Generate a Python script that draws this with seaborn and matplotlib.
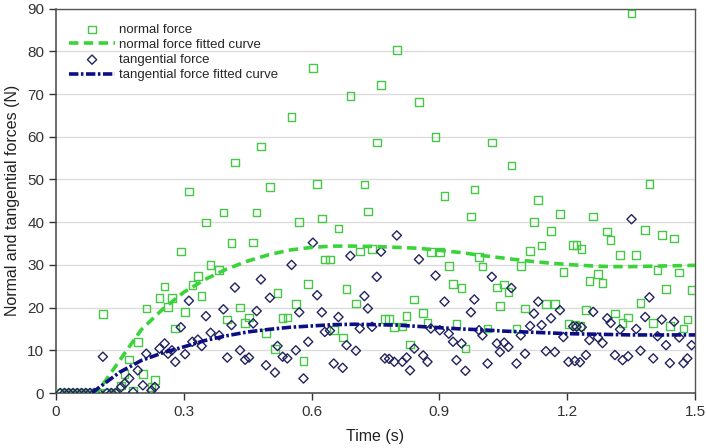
import matplotlib
matplotlib.use("Agg")
import matplotlib.pyplot as plt
import pandas as pd
import seaborn as sns

sample_time = [
    0.010, 0.020, 0.030, 0.040, 0.050, 0.060, 0.070, 0.080, 0.090, 0.100,
    0.110, 0.120, 0.130, 0.140, 0.153, 0.161, 0.172, 0.181, 0.192, 0.204,
    0.212, 0.224, 0.232, 0.243, 0.255, 0.263, 0.272, 0.280, 0.293, 0.303,
    0.312, 0.320, 0.333, 0.342, 0.352, 0.363, 0.383, 0.393, 0.402, 0.412,
    0.420, 0.432, 0.444, 0.453, 0.463, 0.471, 0.481, 0.493, 0.502, 0.514,
    0.520, 0.532, 0.543, 0.553, 0.563, 0.571, 0.581, 0.592, 0.603, 0.613,
    0.624, 0.631, 0.643, 0.652, 0.663, 0.673, 0.682, 0.691, 0.704, 0.713,
    0.724, 0.732, 0.742, 0.753, 0.763, 0.772, 0.782, 0.794, 0.800, 0.813,
    0.823, 0.831, 0.841, 0.852, 0.862, 0.872, 0.880, 0.891, 0.901, 0.912,
    0.922, 0.932, 0.940, 0.952, 0.961, 0.974, 0.982, 0.993, 1.001, 1.013,
    1.023, 1.035, 1.042, 1.052, 1.062, 1.069, 1.081, 1.091, 1.101, 1.113,
    1.122, 1.132, 1.140, 1.150, 1.162, 1.171, 1.183, 1.191, 1.203, 1.214,
    1.218, 1.222, 1.230, 1.234, 1.244, 1.252, 1.261, 1.272, 1.283, 1.294,
    1.302, 1.312, 1.324, 1.330, 1.343, 1.351, 1.362, 1.372, 1.383, 1.393,
    1.402, 1.412, 1.422, 1.432, 1.441, 1.451, 1.463, 1.473, 1.482, 1.492,
]
normal_force = [
    0, 0, 0, 0, 0, 0, 0, 0, 0, 0,
    18.5, 0, 0, 0, 1.8, 4.5, 7.8, 0.5, 12.0, 4.5,
    19.8, 1.4, 3.1, 22.2, 24.9, 20.2, 22.2, 15.1, 33.1, 19.0,
    47.2, 25.3, 27.4, 22.7, 39.9, 30.0, 28.8, 42.3, 17.2, 35.1,
    54.0, 20.0, 16.4, 17.7, 35.2, 42.3, 57.7, 14.0, 48.2, 10.3,
    23.4, 17.5, 17.7, 64.6, 20.8, 40.1, 7.5, 25.5, 76.1, 49.0,
    40.9, 31.3, 31.3, 14.7, 38.5, 13.0, 24.3, 69.5, 21.0, 33.1,
    48.8, 42.5, 33.7, 58.7, 72.2, 17.3, 17.3, 15.5, 80.3, 15.6,
    18.0, 11.4, 21.9, 68.2, 18.8, 16.4, 33.0, 59.9, 33.0, 46.2,
    29.8, 25.5, 16.1, 24.6, 10.4, 41.3, 47.7, 31.9, 29.6, 15.1,
    58.7, 24.7, 20.4, 25.4, 23.6, 53.3, 15.1, 29.8, 19.8, 33.3,
    40.1, 45.2, 34.5, 20.8, 38.0, 20.8, 41.9, 28.4, 16.1, 34.7,
    15.9, 34.7, 15.7, 33.7, 19.4, 26.2, 41.3, 27.9, 25.7, 37.8,
    35.8, 18.6, 32.3, 16.4, 17.7, 88.9, 32.3, 21.1, 38.2, 48.9,
    16.4, 28.8, 37.0, 24.3, 15.7, 36.2, 28.2, 15.1, 17.2, 24.1,
]
tangential_force = [
    0, 0, 0, 0, 0, 0, 0, 0, 0, 0,
    8.5, 0, 0, 0, 1.4, 2.2, 3.4, 0.2, 5.3, 1.8,
    9.2, 0.6, 1.4, 10.4, 11.6, 9.2, 10.0, 7.3, 15.4, 9.1,
    21.6, 12.0, 12.5, 11.0, 18.0, 14.1, 13.5, 19.6, 8.3, 15.9,
    24.7, 10.0, 7.8, 8.3, 16.3, 19.2, 26.6, 6.5, 22.3, 4.8,
    11.0, 8.5, 8.1, 30.0, 10.0, 18.9, 3.4, 12.0, 35.2, 22.9,
    18.9, 14.3, 14.6, 6.9, 17.8, 5.9, 11.2, 32.1, 9.9, 15.1,
    22.7, 19.8, 15.5, 27.2, 33.1, 8.1, 8.0, 7.3, 36.9, 7.3,
    8.3, 5.3, 10.4, 31.3, 8.8, 7.3, 15.1, 27.5, 14.7, 21.4,
    13.9, 12.0, 7.7, 11.6, 5.2, 18.9, 21.9, 14.7, 13.5, 6.9,
    27.2, 11.6, 9.6, 11.8, 10.8, 24.6, 6.9, 13.5, 9.2, 15.7,
    18.6, 21.4, 15.9, 9.8, 17.5, 9.6, 19.4, 13.1, 7.3, 15.6,
    7.5, 15.5, 7.2, 15.4, 8.9, 12.4, 19.0, 13.0, 11.7, 17.5,
    16.4, 8.9, 14.9, 7.7, 8.6, 40.7, 15.0, 9.9, 17.8, 22.4,
    8.1, 13.3, 17.2, 11.2, 7.0, 16.7, 13.0, 7.0, 8.1, 11.2,
]

# fitted curves
fit_time = [
    0.085, 0.10, 0.15, 0.20, 0.25, 0.30, 0.35, 0.40, 0.45, 0.50,
    0.55, 0.60, 0.65, 0.70, 0.75, 0.80, 0.85, 0.90, 0.95, 1.00,
    1.05, 1.10, 1.15, 1.20, 1.25, 1.30, 1.35, 1.40, 1.45, 1.50,
]
normal_fit = [
    0.0, 0.6, 7.7, 14.8, 19.6, 23.6, 26.6, 29.0, 30.9, 32.4,
    33.5, 34.1, 34.4, 34.4, 34.3, 34.1, 33.9, 33.4, 32.9, 32.2,
    31.6, 31.0, 30.5, 30.1, 29.8, 29.6, 29.6, 29.7, 29.8, 29.9,
]
tangential_fit = [
    0.0, 1.2, 4.9, 7.6, 9.4, 10.8, 12.3, 13.4, 14.3, 14.9,
    15.4, 15.7, 16.0, 16.1, 16.0, 15.9, 15.6, 15.3, 15.0, 14.8,
    14.5, 14.3, 14.1, 13.9, 13.8, 13.7, 13.6, 13.6, 13.6, 13.6,
]

x_ticks = [0, 0.3, 0.6, 0.9, 1.2, 1.5]
x_tick_labels = ["0", "0.3", "0.6", "0.9", "1.2", "1.5"]
y_ticks = [0, 10, 20, 30, 40, 50, 60, 70, 80, 90]

GREEN_PT = "#46c846"
GREEN_LINE = "#3ad43a"
NAVY_PT = "#23235f"
NAVY_LINE = "#0d0d85"


def main():
    sns.set_style("white")
    plt.rcParams["font.family"] = ["Liberation Sans", "DejaVu Sans"]

    samples = pd.DataFrame({
        "time": sample_time,
        "normal": normal_force,
        "tangential": tangential_force,
    })
    fits = pd.DataFrame({
        "time": fit_time,
        "normal": normal_fit,
        "tangential": tangential_fit,
    })

    fig = plt.figure(figsize=(7.06, 4.48), dpi=100)
    ax = fig.add_axes([56 / 706, 1 - 393 / 448, 639 / 706, 384.3 / 448])

    sns.scatterplot(
        data=samples, x="time", y="normal", ax=ax, marker="s", s=30,
        facecolor="none", edgecolor=GREEN_PT, linewidth=1.0, label="normal force",
        zorder=3,
    )
    sns.lineplot(
        data=fits, x="time", y="normal", ax=ax, color=GREEN_LINE, lw=2.6,
        linestyle=(0, (2.6, 1.5)), errorbar=None, label="normal force fitted curve",
        zorder=4,
    )
    sns.scatterplot(
        data=samples, x="time", y="tangential", ax=ax, marker="D", s=22,
        facecolor="none", edgecolor=NAVY_PT, linewidth=1.0, label="tangential force",
        zorder=3,
    )
    sns.lineplot(
        data=fits, x="time", y="tangential", ax=ax, color=NAVY_LINE, lw=2.6,
        linestyle=(0, (2.6, 0.7, 0.7, 0.7)), errorbar=None,
        label="tangential force fitted curve", zorder=4,
    )

    ax.set_xlim(0, 1.5)
    ax.set_ylim(0, 90)
    ax.set_xticks(x_ticks)
    ax.set_xticklabels(x_tick_labels)
    ax.set_yticks(y_ticks)
    ax.tick_params(axis="both", labelsize=11, colors="#333333", length=5,
                   width=1, direction="out", left=True, bottom=True)
    ax.yaxis.grid(True, color="#dcdcdc", lw=1)
    ax.xaxis.grid(False)
    ax.set_axisbelow(True)

    for side in ["left", "bottom"]:
        ax.spines[side].set_color("#444444")
        ax.spines[side].set_linewidth(1.1)
    for side in ["top", "right"]:
        ax.spines[side].set_color("#555555")
        ax.spines[side].set_linewidth(1.0)

    ax.set_xlabel("Time (s)", fontsize=11.5, color="#222222", labelpad=7)
    ax.set_ylabel("Normal and tangential forces (N)", fontsize=11.5,
                  color="#222222", labelpad=5)

    handles, labels = ax.get_legend_handles_labels()
    ax.legend(handles, labels, loc="upper left", bbox_to_anchor=(0.012, 0.975),
              frameon=False, fontsize=9.5, handlelength=3.5, handletextpad=0.3,
              labelspacing=0.22, borderaxespad=0)

    fig.savefig("out.png", dpi=100)
    plt.close(fig)


if __name__ == "__main__":
    main()
